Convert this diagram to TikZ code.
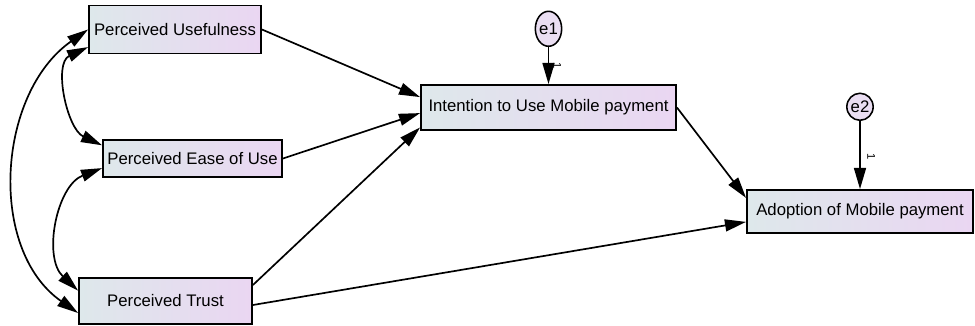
\documentclass[tikz,border=0pt]{standalone}
\usepackage{fontspec}
\setmainfont{Liberation Sans}
\usepackage{xcolor}
\usepackage{tikz}
\usetikzlibrary{shapes.geometric, arrows.meta, positioning}
\definecolor{boxleft}{RGB}{222, 232, 235}
\definecolor{boxright}{RGB}{234, 214, 242}
\definecolor{errfill}{RGB}{234, 222, 242}

\begin{document}
\begin{tikzpicture}[x=0.025cm, y=-0.025cm,
    var/.style={draw=black, rectangle, line width=1.3pt, left color=boxleft, right color=boxright, inner sep=2pt, font=\fontsize{11.9}{14}\selectfont},
    err/.style={draw=black, ellipse, line width=1.1pt, fill=errfill, inner sep=0pt, font=\fontsize{11.9}{14}\selectfont},
    reg/.style={draw=black, line width=1.2pt, -{Triangle[length=15pt, width=8.5pt]}},
    cov/.style={draw=black, line width=1.2pt, {Triangle[length=15pt, width=8.5pt]}-{Triangle[length=15pt, width=8.5pt]}},
    one/.style={font=\fontsize{8}{9}\selectfont, rotate=-90, inner sep=0pt}
]
    \useasboundingbox (0,0) rectangle (975,326);

    % Observed variables
    \node[var, minimum width=4.3cm, minimum height=1.2cm] (pu) at (175,29.5) {Perceived Usefulness};
    \node[var, minimum width=4.475cm, minimum height=0.925cm] (peou) at (192.5,158.5) {Perceived Ease of Use};
    \node[var, minimum width=4.325cm, minimum height=1.15cm] (pt) at (165.5,301) {Perceived Trust};
    \node[var, minimum width=6.375cm, minimum height=1.125cm] (itu) at (548.5,107.5) {Intention to Use Mobile payment};
    \node[var, minimum width=5.65cm, minimum height=1.075cm] (amp) at (860,211.5) {Adoption of Mobile payment};

    % Error terms
    \node[err, minimum width=0.65cm, minimum height=0.875cm, above=0.925cm of itu] (e1) {e1};
    \node[err, minimum width=0.625cm, minimum height=0.675cm, above=1.7cm of amp] (e2) {e2};

    % Regression paths
    \draw[reg] (pu.east) -- ([yshift=0.26cm]itu.west);
    \draw[reg] (peou.east) -- ([yshift=-0.14cm]itu.west);
    \draw[reg] ([yshift=0.4cm]pt.east) -- ([yshift=-0.5cm]itu.west);
    \draw[reg] (itu.east) -- ([yshift=0.34cm]amp.west);
    \draw[reg] ([yshift=-0.1cm]pt.east) -- ([yshift=-0.26cm]amp.west);

    \draw[reg] (e1) -- node[xshift=0.22cm, one, pos=0.5]{1} (itu);
    \draw[reg] (e2) -- node[xshift=0.28cm, one, pos=0.52]{1} (amp);

    % Covariances
    \draw[cov] (pu.west) to[out=215, in=145] ([yshift=-0.3cm]pt.west);
    \draw[cov] ([yshift=-0.44cm]pu.west) to[out=205, in=155] ([yshift=0.33cm]peou.west);
    \draw[cov] ([yshift=-0.24cm]peou.west) to[out=201, in=137] ([yshift=0.26cm]pt.west);
\end{tikzpicture}
\end{document}
